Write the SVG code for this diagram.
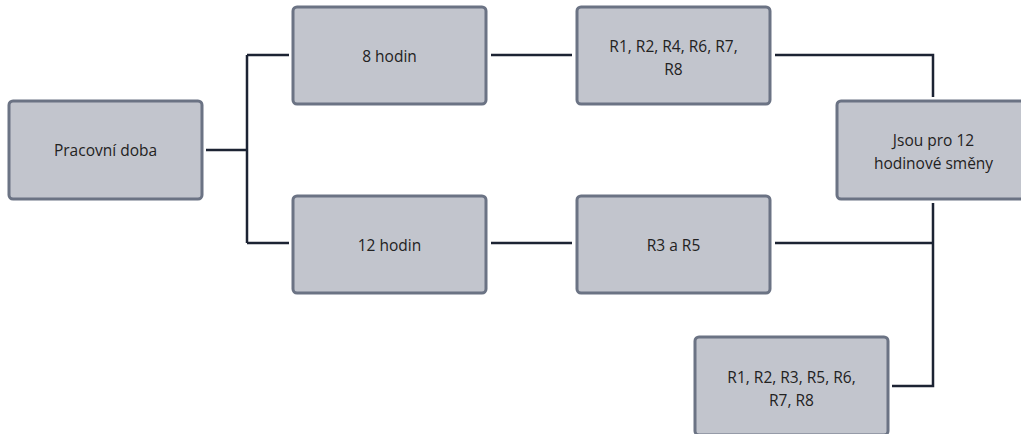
<svg xmlns="http://www.w3.org/2000/svg" width="1021" height="434" viewBox="0 0 1021 434">
<style>
.box{fill:#c2c5cd;stroke:#6b7384;stroke-width:3}
.t{font-family:"Open Sans","Noto Sans",sans-serif;font-size:15.5px;fill:#222;text-anchor:middle;dominant-baseline:central}
.c{fill:none;stroke:#1c2333;stroke-width:2.5}
</style>
<rect width="1021" height="434" fill="#fff"/>
<g id="connectors">
<path class="c" d="M206 150H247M247 55V243M247 55H289M247 243H289"/>
<path class="c" d="M491 55H572"/>
<path class="c" d="M491 243H572"/>
<path class="c" d="M775 55H933V97"/>
<path class="c" d="M775 243H933M933 203V386H892"/>
</g>
<g id="n1"><rect class="box" x="9" y="101" width="193" height="98" rx="4"/><text class="t" x="105.5" y="150">Pracovní doba</text></g>
<g id="n2"><rect class="box" x="293" y="7" width="193" height="97" rx="4"/><text class="t" x="389.5" y="56">8 hodin</text></g>
<g id="n3"><rect class="box" x="577" y="7" width="193" height="97" rx="4"/><text class="t" x="673.5" y="46">R1, R2, R4, R6, R7,</text><text class="t" x="673.5" y="69">R8</text></g>
<g id="n4"><rect class="box" x="293" y="196" width="193" height="97" rx="4"/><text class="t" x="389.5" y="245">12 hodin</text></g>
<g id="n5"><rect class="box" x="577" y="196" width="193" height="97" rx="4"/><text class="t" x="673.5" y="245">R3 a R5</text></g>
<g id="n6"><rect class="box" x="837" y="101" width="193" height="98" rx="4"/><text class="t" x="933.5" y="140">Jsou pro 12</text><text class="t" x="933.5" y="163">hodinové směny</text></g>
<g id="n7"><rect class="box" x="695" y="337" width="193" height="98" rx="4"/><text class="t" x="791.5" y="377">R1, R2, R3, R5, R6,</text><text class="t" x="791.5" y="400">R7, R8</text></g>
</svg>
